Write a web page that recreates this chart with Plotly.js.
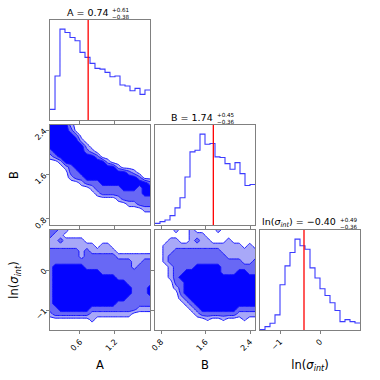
<!DOCTYPE html>
<html><head><meta charset="utf-8">
<script src="https://cdn.plot.ly/plotly-3.0.1.min.js"></script>
<style>html,body{margin:0;padding:0;background:#fff}</style>
</head><body><div id="chart" style="width:380px;height:380px"></div>
<script>
// ---------------- data ----------------
const paramLabels = ['A', 'B', 'ln(<i>σ</i><sub><i>int</i></sub>)'];
const medians  = [0.74, 1.74, -0.40];
const errPlus  = [0.61, 0.45, 0.49];
const errMinus = [0.38, 0.36, 0.36];

const A_range = [0.086, 1.8];
const B_range = [0.69, 2.49];
const S_range = [-1.5, 1.0];

const A_ticks = [0.6, 1.2];        const A_tickText = ['0.6', '1.2'];
const B_ticks = [0.8, 1.6, 2.4];   const B_tickText = ['0.8', '1.6', '2.4'];
const S_ticks = [-1, 0];           const S_tickText = ['\u22121', '0'];

// 1D histogram bin edges and (relative) counts
const A_edges = [0.086,0.172,0.257,0.343,0.429,0.515,0.600,0.686,0.772,0.857,0.943,1.029,1.114,1.200,1.286,1.372,1.457,1.543,1.629,1.714,1.800];
const A_counts = [11.7,48.4,100,96.3,90.8,87.2,74.4,68.9,62.3,56.8,56.0,52.4,47.6,48.4,38.5,37.4,32.2,34.8,28.2,33.0];
const B_edges = [0.69,0.78,0.87,0.96,1.05,1.14,1.23,1.32,1.41,1.50,1.59,1.68,1.77,1.86,1.95,2.04,2.13,2.22,2.31,2.40,2.49];
const B_counts = [1.8,3.7,5.5,10.3,18.8,29.9,52.8,80.4,82.3,100,88.9,89.7,74.9,74.2,67.5,61.3,68.6,56.5,43.5,44.6];
const S_edges = [-1.5,-1.375,-1.25,-1.125,-1.0,-0.875,-0.75,-0.625,-0.5,-0.375,-0.25,-0.125,0,0.125,0.25,0.375,0.5,0.625,0.75,0.875,1.0];
const S_counts = [0.5,3.7,7.4,16.6,49.8,70.5,85.2,100,92.6,88.9,68.3,57.2,45.4,38.0,29.9,21.4,9.2,11.4,9.2,7.7];

// 2D density grid nodes
const A_nodes = [0.086,0.176,0.266,0.357,0.447,0.537,0.627,0.717,0.808,0.898,0.988,1.078,1.168,1.259,1.349,1.439,1.529,1.619,1.710,1.800];
const B_nodes = [0.690,0.785,0.879,0.974,1.069,1.164,1.258,1.353,1.448,1.543,1.637,1.732,1.827,1.922,2.016,2.111,2.206,2.301,2.395,2.490];
const S_nodes = [-1.500,-1.368,-1.237,-1.105,-0.974,-0.842,-0.711,-0.579,-0.447,-0.316,-0.184,-0.053,0.079,0.211,0.342,0.474,0.605,0.737,0.868,1.000];

// credible-region level (0 outside .. 3 innermost), rows listed from top of panel to bottom
const BA_rows = [
[3,3,3,3,1,0,0,0,0,0,0,0,0,0,0,0,0,0,0,0],
[3,3,3,3,2,0,0,0,0,0,0,0,0,0,0,0,0,0,0,0],
[3,3,3,3,3,2,0,0,0,0,0,0,0,0,0,0,0,0,0,0],
[3,3,3,3,3,3,1,0,0,0,0,0,0,0,0,0,0,0,0,0],
[3,3,3,3,3,3,3,1,0,0,0,0,0,0,0,0,0,0,0,0],
[2,3,3,3,3,3,3,2,1,0,0,0,0,0,0,0,0,0,0,0],
[1,2,3,3,3,3,3,3,3,2,0,0,0,0,0,0,0,0,0,0],
[0,0,1,3,3,3,3,3,3,3,3,1,0,0,0,0,0,0,0,0],
[0,0,0,1,2,3,3,3,3,3,3,3,3,1,0,0,0,0,0,0],
[0,0,0,0,2,2,3,3,3,3,3,3,3,3,3,2,1,0,0,0],
[0,0,0,0,1,2,2,3,3,3,3,3,3,3,3,3,3,2,0,0],
[0,0,0,0,0,0,1,2,2,2,3,3,3,3,3,3,3,3,3,2],
[0,0,0,0,0,0,0,0,1,2,2,2,2,2,3,3,3,2,3,3],
[0,0,0,0,0,0,0,0,0,1,2,2,2,2,2,2,2,2,3,3],
[0,0,0,0,0,0,0,0,0,0,0,0,0,1,2,2,2,2,2,2],
[0,0,0,0,0,0,0,0,0,0,0,0,0,0,0,1,1,2,2,2],
[0,0,0,0,0,0,0,0,0,0,0,0,0,0,0,0,0,0,1,1],
[0,0,0,0,0,0,0,0,0,0,0,0,0,0,0,0,0,0,0,0],
[0,0,0,0,0,0,0,0,0,0,0,0,0,0,0,0,0,0,0,0],
[0,0,0,0,0,0,0,0,0,0,0,0,0,0,0,0,0,0,0,0]];
const SA_rows = [
[2,2,1,1,0,0,0,0,0,0,0,0,0,0,0,0,0,0,0,0],
[2,1,1,0,0,0,0,0,0,0,0,0,0,0,0,0,0,0,0,0],
[1,1,2,1,1,1,1,0,0,0,0,0,0,0,0,0,0,0,0,0],
[1,1,1,1,1,1,1,1,1,0,1,1,0,0,0,0,0,0,0,0],
[2,2,2,2,2,2,1,2,1,1,1,1,1,0,0,0,0,0,0,0],
[2,2,2,2,2,2,1,2,2,2,2,2,2,1,1,1,1,1,1,1],
[2,2,2,2,2,2,2,2,2,2,2,2,2,2,2,2,1,1,2,2],
[2,3,3,3,3,3,3,2,2,2,2,2,2,2,2,2,1,2,2,2],
[2,3,3,3,3,3,3,3,3,3,2,2,2,2,2,2,2,2,2,2],
[2,3,3,3,3,3,3,3,3,3,3,3,3,2,2,2,2,2,2,2],
[2,3,3,3,3,3,3,3,3,3,3,3,3,3,3,2,2,2,2,2],
[2,3,3,3,3,3,3,3,3,3,3,3,3,3,3,3,2,2,2,3],
[2,3,3,3,3,3,3,3,3,3,3,3,3,3,3,3,2,2,2,3],
[2,3,3,3,3,3,3,3,3,3,3,3,3,3,3,2,2,2,2,2],
[2,3,3,3,3,3,3,3,3,3,3,3,3,2,2,2,2,2,2,2],
[2,2,3,3,3,3,3,3,2,2,2,2,2,2,2,2,2,1,1,1],
[1,2,2,2,2,2,2,2,1,1,1,1,1,1,1,1,0,0,0,0],
[0,0,0,0,0,0,0,0,1,0,0,0,0,0,0,0,0,0,0,0],
[0,0,0,0,0,0,0,0,0,0,0,0,0,0,0,0,0,0,0,0],
[0,0,0,0,0,0,0,0,0,0,0,0,0,0,0,0,0,0,0,0]];
const SB_rows = [
[0,0,0,0,1,0,0,1,0,0,0,0,1,0,0,0,0,0,0,0],
[0,0,0,0,0,0,0,1,1,1,0,0,0,0,0,0,0,0,0,0],
[0,0,0,1,1,0,0,1,2,1,1,0,0,0,1,0,0,0,0,0],
[0,0,1,1,1,1,1,1,1,1,1,1,1,1,1,1,1,0,1,0],
[0,0,1,1,2,2,2,2,2,2,2,2,2,1,1,1,1,1,1,1],
[0,0,1,2,2,2,2,2,2,2,2,2,2,2,1,1,1,1,1,1],
[0,0,1,2,2,2,2,2,2,2,2,2,2,2,2,2,2,1,1,2],
[0,0,0,1,2,2,2,2,3,3,3,3,3,2,2,2,2,2,2,2],
[0,0,0,1,2,2,3,3,3,3,3,3,3,2,2,2,3,3,2,2],
[0,0,0,1,2,3,3,3,3,3,3,3,3,3,3,3,3,3,3,3],
[0,0,0,0,2,2,3,3,3,3,3,3,3,3,3,3,3,3,3,3],
[0,0,0,0,1,2,3,3,3,3,3,3,3,3,3,3,3,3,3,3],
[0,0,0,0,0,2,3,3,3,3,3,3,3,3,3,3,3,3,3,3],
[0,0,0,0,0,1,2,3,3,3,3,3,3,3,3,3,3,3,3,3],
[0,0,0,0,0,0,1,2,3,3,3,3,3,3,3,3,3,3,3,3],
[0,0,0,0,0,0,0,1,2,3,3,3,3,3,3,3,2,2,2,2],
[0,0,0,0,0,0,0,0,1,2,2,2,2,2,2,2,1,1,1,1],
[0,0,0,0,0,0,0,0,0,0,0.7,0,0,0.7,0,0,0,0.7,0,0],
[0,0,0,0,0,0,0,0,0,0,0,0,0,0,0,0,0,0,0,0],
[0,0,0,0,0,0,0,0,0,0,0,0,0,0,0,0,0,0,0,0]];

// ---------------- styling ----------------
const FONT = 'DejaVu Sans, Liberation Sans, sans-serif';
const W = 380, H = 380;
const px = v => v / W;
const py = v => 1 - v / H;
const colDom = [[px(50), px(150)], [px(155), px(255)], [px(260), px(360)]];
const rowDom = [[py(120), py(20)], [py(225), py(125)], [py(330), py(230)]];
const HIST_MAX = 110;
const frameColor = '#808080';
const histColor = 'rgb(60,60,255)';

function axis(domain, range, anchor, tickvals, ticktext, labels, titleText, standoff) {
  const a = {
    domain: domain, range: range, anchor: anchor,
    showline: true, mirror: true, linecolor: frameColor, linewidth: 1,
    showgrid: false, zeroline: false,
    ticks: tickvals ? 'outside' : '', ticklen: 3, tickwidth: 1, tickcolor: frameColor,
    tickmode: 'array', tickvals: tickvals || [], ticktext: ticktext || [],
    showticklabels: !!labels, tickangle: -45,
    tickfont: {family: FONT, size: 8, color: '#000'},
    fixedrange: true
  };
  if (titleText) a.title = {text: titleText, font: {family: FONT, size: 11.5, color: '#000'}, standoff: standoff};
  return a;
}

function stepLine(edges, counts, xa, ya) {
  return {type: 'scatter', mode: 'lines', x: edges, y: counts.concat([counts[counts.length - 1]]),
    line: {shape: 'hv', color: histColor, width: 1.1}, xaxis: xa, yaxis: ya, hoverinfo: 'skip'};
}

const cscale = [[0, 'rgb(255,255,255)'], [1/3, 'rgb(168,168,248)'], [2/3, 'rgb(104,104,245)'], [1, 'rgb(4,4,255)']];
function density(xn, yn, rows, xa, ya) {
  return {type: 'contour', x: xn, y: yn, z: rows.slice().reverse(), xaxis: xa, yaxis: ya,
    autocontour: false, contours: {start: 0.5, end: 2.5, size: 1, coloring: 'fill', showlines: true},
    colorscale: cscale, showscale: false, hoverinfo: 'skip',
    line: {color: 'rgb(20,20,255)', width: 1, smoothing: 0}};
}

const data = [
  stepLine(A_edges, A_counts, 'x', 'y'),
  density(A_nodes, B_nodes, BA_rows, 'x2', 'y2'),
  stepLine(B_edges, B_counts, 'x3', 'y3'),
  density(A_nodes, S_nodes, SA_rows, 'x4', 'y4'),
  density(B_nodes, S_nodes, SB_rows, 'x5', 'y5'),
  stepLine(S_edges, S_counts, 'x6', 'y6')
];

const fmt = v => v.toFixed(2).replace('-', '\u2212');
const titleAnchorX = [109.5, 214, 337];
const titleY = [12.9, 117.9, 222.9];
const annotations = [];
for (let i = 0; i < 3; i++) {
  annotations.push({xref: 'paper', yref: 'paper', x: px(titleAnchorX[i]), y: py(titleY[i]), xanchor: 'right', yanchor: 'middle',
    text: paramLabels[i] + ' = ' + fmt(medians[i]), showarrow: false, borderpad: 0,
    font: {family: FONT, size: 9.5, color: '#000'}});
  annotations.push({xref: 'paper', yref: 'paper', x: px(titleAnchorX[i] + 1.5), y: py(titleY[i] + 0.2), xanchor: 'left', yanchor: 'middle',
    text: '+' + fmt(errPlus[i]) + '<br>' + fmt(-errMinus[i]), showarrow: false, borderpad: 0, align: 'left',
    font: {family: FONT, size: 5.6, color: '#000'}});
}

const shapes = [['x', 'y', 0], ['x3', 'y3', 1], ['x6', 'y6', 2]].map(([xa, ya, i]) => ({
  type: 'line', xref: xa, yref: ya + ' domain', x0: medians[i], x1: medians[i], y0: 0, y1: 1,
  line: {color: 'red', width: 1.3}
}));

const layout = {
  width: W, height: H, margin: {l: 0, r: 0, t: 0, b: 0},
  paper_bgcolor: '#fff', plot_bgcolor: '#fff', showlegend: false,
  font: {family: FONT, color: '#000'},
  xaxis:  axis(colDom[0], A_range, 'y',  A_ticks, A_tickText, false),
  yaxis:  axis(rowDom[0], [0, HIST_MAX], 'x', null, null, false),
  xaxis2: axis(colDom[0], A_range, 'y2', A_ticks, A_tickText, false),
  yaxis2: axis(rowDom[1], B_range, 'x2', B_ticks, B_tickText, true, paramLabels[1], 12),
  xaxis3: axis(colDom[1], B_range, 'y3', B_ticks, B_tickText, false),
  yaxis3: axis(rowDom[1], [0, HIST_MAX], 'x3', null, null, false),
  xaxis4: axis(colDom[0], A_range, 'y4', A_ticks, A_tickText, true, paramLabels[0], 9),
  yaxis4: axis(rowDom[2], S_range, 'x4', S_ticks, S_tickText, true, paramLabels[2], 12),
  xaxis5: axis(colDom[1], B_range, 'y5', B_ticks, B_tickText, true, paramLabels[1], 9),
  yaxis5: axis(rowDom[2], S_range, 'x5', S_ticks, S_tickText, false),
  xaxis6: axis(colDom[2], S_range, 'y6', S_ticks, S_tickText, true, paramLabels[2], 9),
  yaxis6: axis(rowDom[2], [0, HIST_MAX], 'x6', null, null, false),
  annotations: annotations,
  shapes: shapes
};

Plotly.newPlot('chart', data, layout, {staticPlot: true, displayModeBar: false});
</script></body></html>
